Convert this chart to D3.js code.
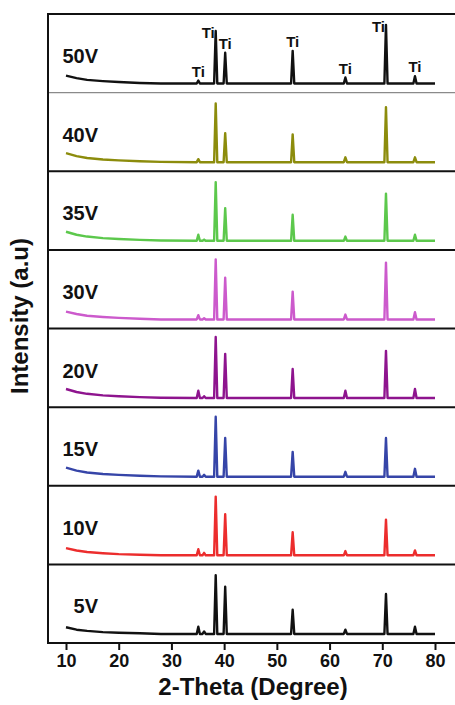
<!DOCTYPE html>
<html>
<head>
<meta charset="utf-8">
<script src="https://cdn.jsdelivr.net/npm/d3@7"></script>
<style>
  body { margin: 0; background: #fff; }
  text { font-family: "Liberation Sans", Arial, sans-serif; font-weight: bold; fill: #111; }
</style>
</head>
<body>
<svg id="chart" width="455" height="705"></svg>
<script>
// 2-theta grid shared by every pattern
const twoTheta = [10, 12, 14, 17, 20, 24, 28, 34.8, 35.1, 35.4, 35.9, 36.2, 36.5,
  38.1, 38.4, 38.7, 39.9, 40.2, 40.5, 52.7, 53.0, 53.3, 62.7, 63.0, 63.3,
  70.4, 70.7, 71.0, 75.9, 76.2, 76.5, 80];

// top to bottom
const voltages = ["50V", "40V", "35V", "30V", "20V", "15V", "10V", "5V"];
const colors = ["#111111", "#8c8c0c", "#5cc84c", "#cc5acc", "#8e148e", "#3645a8", "#ec2d2d", "#111111"];

const i50 = [13, 9, 6, 4, 2.5, 1, 0, 0, 5, 0, 0, 0, 0, 0, 87, 0, 0, 51, 0, 0, 54, 0, 0, 10, 0, 0, 97, 0, 0, 12, 0, 0];
const i40 = [15, 10, 7, 4.5, 3, 1.5, 0.5, 0, 5, 0, 0, 0, 0, 0, 97, 0, 0, 48, 0, 0, 46, 0, 0, 8, 0, 0, 91, 0, 0, 8, 0, 0];
const i35 = [15, 10, 7, 4.5, 3, 1.5, 0.5, 0, 10, 0, 0, 2, 0, 0, 97, 0, 0, 54, 0, 0, 43, 0, 0, 7, 0, 0, 78, 0, 0, 10, 0, 0];
const i30 = [13, 9, 6, 4, 2.5, 1, 0, 0, 7, 0, 0, 2, 0, 0, 99, 0, 0, 69, 0, 0, 46, 0, 0, 8, 0, 0, 94, 0, 0, 12, 0, 0];
const i20 = [15, 10, 7, 4.5, 3, 1.5, 0.5, 0, 12, 0, 0, 3, 0, 0, 101, 0, 0, 73, 0, 0, 48, 0, 0, 12, 0, 0, 78, 0, 0, 15, 0, 0];
const i15 = [15, 10, 7, 4.5, 3, 1.5, 0.5, 0, 10, 0, 0, 3, 0, 0, 99, 0, 0, 64, 0, 0, 41, 0, 0, 8, 0, 0, 64, 0, 0, 13, 0, 0];
const i10 = [12, 8, 5.5, 3.5, 2, 1, 0, 0, 10, 0, 0, 4, 0, 0, 97, 0, 0, 68, 0, 0, 38, 0, 0, 7, 0, 0, 59, 0, 0, 8, 0, 0];
const i5 = [11, 7, 5, 3, 2, 1, 0, 0, 12, 0, 0, 4, 0, 0, 97, 0, 0, 78, 0, 0, 40, 0, 0, 7, 0, 0, 66, 0, 0, 12, 0, 0];
const intensities = [i50, i40, i35, i30, i20, i15, i10, i5];

// Ti reflections marked on the top pattern
const tiPeaks = [35.1, 38.4, 40.2, 53.0, 63.0, 70.7, 76.2];
const xTicks = [10, 20, 30, 40, 50, 60, 70, 80];

const svg = d3.select("#chart");
const frameL = 48, frameT = 14, frameB = 643, frameR = 460;

const x = d3.scaleLinear().domain([10, 80]).range([66, 435]);
const band = d3.scaleBand().domain(voltages).range([frameT, frameB]);

voltages.forEach(function(v, k) {
  const y0 = band(v), y1 = y0 + band.bandwidth();
  const y = d3.scaleLinear().domain([-15, 115]).range([y1, y0]);
  const pts = twoTheta.map(function(t, j) { return [t, intensities[k][j]]; });

  svg.append("path")
    .datum(pts)
    .attr("fill", "none")
    .attr("stroke", colors[k])
    .attr("stroke-width", 2.4)
    .attr("stroke-linejoin", "round")
    .attr("d", d3.line().x(function(d) { return x(d[0]); }).y(function(d) { return y(d[1]); }));

  svg.append("text")
    .attr("x", 98)
    .attr("y", y0 + 49)
    .attr("text-anchor", "end")
    .style("font-size", "20px")
    .text(v);

  // separator under each panel
  if (k < voltages.length - 1) {
    svg.append("line")
      .attr("x1", frameL).attr("x2", frameR)
      .attr("y1", y1).attr("y2", y1)
      .attr("stroke", k === 0 ? "#8a8a8a" : "#111")
      .attr("stroke-width", k === 0 ? 1.2 : 2);
  }

  if (k === 0) {
    tiPeaks.forEach(function(p) {
      const h = intensities[k][twoTheta.indexOf(p)];
      const py = y(h);
      const high = py - y0 < 20;
      svg.append("text")
        .attr("x", high ? x(p) - 1 : x(p))
        .attr("y", high ? py + 7 : py - 4)
        .attr("text-anchor", high ? "end" : "middle")
        .style("font-size", "15px")
        .text("Ti");
    });
  }
});

// frame
svg.append("line").attr("x1", frameL).attr("x2", frameR).attr("y1", frameT).attr("y2", frameT)
  .attr("stroke", "#111").attr("stroke-width", 2);
svg.append("line").attr("x1", frameL).attr("x2", frameL).attr("y1", frameT - 1).attr("y2", frameB + 1)
  .attr("stroke", "#111").attr("stroke-width", 2);

const xAxis = svg.append("g")
  .attr("transform", "translate(0," + frameB + ")")
  .call(d3.axisBottom(x).tickValues(xTicks).tickSize(7).tickPadding(4).tickSizeOuter(0));
xAxis.select(".domain").attr("d", "M" + frameL + ",0H" + frameR).attr("stroke", "#111").attr("stroke-width", 2);
xAxis.selectAll(".tick line").attr("stroke", "#111").attr("stroke-width", 2);
xAxis.selectAll(".tick text")
  .style("font-size", "18px")
  .style("font-family", "'Liberation Sans', Arial, sans-serif")
  .style("font-weight", "bold")
  .attr("fill", "#111");

svg.append("text")
  .attr("x", 253)
  .attr("y", 695)
  .attr("text-anchor", "middle")
  .style("font-size", "24px")
  .text("2-Theta (Degree)");

svg.append("text")
  .attr("transform", "translate(28,316) rotate(-90)")
  .attr("text-anchor", "middle")
  .style("font-size", "24px")
  .text("Intensity (a.u)");
</script>
</body>
</html>
